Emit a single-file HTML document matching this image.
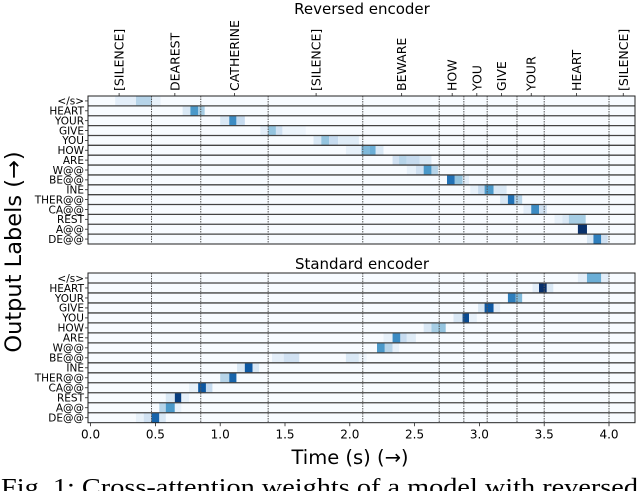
<!DOCTYPE html>
<html><head><meta charset="utf-8"><style>
html,body{margin:0;padding:0;background:#fff;overflow:hidden}
svg text{font-family:"DejaVu Sans","Liberation Sans",sans-serif}
</style></head><body>
<svg id="fig" width="640" height="491" viewBox="0 0 640 491" xmlns="http://www.w3.org/2000/svg">
<text x="362" y="14" font-size="15" text-anchor="middle">Reversed encoder</text>
<text x="362" y="269" font-size="15" text-anchor="middle">Standard encoder</text>
<text transform="translate(21,252) rotate(-90)" font-size="22.5" text-anchor="middle">Output Labels (→)</text>
<text x="350" y="464" font-size="19.5" text-anchor="middle">Time (s) (→)</text>
<text x="1" y="495" font-size="24" textLength="637" lengthAdjust="spacingAndGlyphs" style="font-family:'Liberation Serif',serif">Fig. 1: Cross-attention weights of a model with reversed</text>
<g id="plots"></g>
</svg>
<script>
const rowLabels = ["</s>","HEART","YOUR","GIVE","YOU","HOW","ARE","W@@","BE@@","INE","THER@@","CA@@","REST","A@@","DE@@"];
const xTicks = [0,0.5,1,1.5,2,2.5,3,3.5,4];
const wordBounds = [0.47,0.85,1.37,2.10,2.69,2.88,3.06,3.29,3.50,4.00];
const words = ["[SILENCE]","DEAREST","CATHERINE","[SILENCE]","BEWARE","HOW","YOU","GIVE","YOUR","HEART","[SILENCE]"];
const wordPos = [0.22,0.65,1.11,1.74,2.40,2.79,2.98,3.17,3.40,3.75,4.11];
// cells: [row, start, end, weight]
const topCells = [
[0,0.19,0.35,0.1],[0,0.35,0.475,0.3],[0,0.475,0.54,0.08],
[1,0.71,0.77,0.15],[1,0.77,0.83,0.6],[1,0.83,0.88,0.35],
[2,1.0,1.07,0.15],[2,1.07,1.125,0.65],[2,1.125,1.19,0.25],
[3,1.31,1.37,0.1],[3,1.37,1.43,0.4],[3,1.43,1.48,0.2],[3,1.48,1.66,0.05],
[4,1.72,1.78,0.15],[4,1.78,1.84,0.4],[4,1.84,1.91,0.25],[4,1.91,2.07,0.12],
[5,1.97,2.09,0.08],[5,2.09,2.15,0.45],[5,2.15,2.2,0.5],[5,2.2,2.26,0.15],
[6,2.33,2.38,0.2],[6,2.38,2.44,0.3],[6,2.44,2.54,0.25],[6,2.54,2.63,0.15],
[7,2.44,2.51,0.08],[7,2.51,2.57,0.2],[7,2.57,2.63,0.6],[7,2.63,2.68,0.3],
[8,2.75,2.81,0.75],[8,2.81,2.87,0.4],[8,2.87,2.92,0.1],
[9,2.93,2.99,0.08],[9,2.99,3.04,0.25],[9,3.04,3.11,0.6],[9,3.11,3.21,0.15],
[10,3.16,3.22,0.15],[10,3.22,3.27,0.75],[10,3.27,3.33,0.3],
[11,3.34,3.40,0.1],[11,3.40,3.46,0.65],[11,3.46,3.52,0.2],
[12,3.58,3.64,0.08],[12,3.64,3.69,0.15],[12,3.69,3.82,0.35],
[13,3.76,3.83,1.0],
[14,3.83,3.88,0.15],[14,3.88,3.94,0.7],[14,3.94,3.99,0.2]
];
const bottomCells = [
[0,3.76,3.83,0.1],[0,3.83,3.94,0.5],[0,3.94,4.0,0.1],
[1,3.41,3.46,0.1],[1,3.46,3.52,1.0],[1,3.52,3.57,0.15],
[2,3.22,3.28,0.7],[2,3.28,3.33,0.45],
[3,2.99,3.04,0.15],[3,3.04,3.11,0.85],[3,3.11,3.16,0.1],
[4,2.80,2.87,0.15],[4,2.87,2.92,0.9],[4,2.92,2.98,0.08],
[5,2.57,2.63,0.15],[5,2.63,2.68,0.35],[5,2.68,2.74,0.4],
[6,2.26,2.33,0.08],[6,2.33,2.39,0.65],[6,2.39,2.44,0.25],[6,2.44,2.51,0.12],
[7,2.21,2.27,0.6],[7,2.27,2.33,0.3],[7,2.33,2.38,0.08],
[8,1.40,1.49,0.1],[8,1.49,1.61,0.2],[8,1.97,2.07,0.15],[8,2.07,2.13,0.05],
[9,1.13,1.19,0.15],[9,1.19,1.25,0.85],[9,1.25,1.30,0.15],
[10,1.0,1.07,0.3],[10,1.07,1.125,0.8],
[11,0.76,0.83,0.08],[11,0.83,0.89,0.85],[11,0.89,0.94,0.25],
[12,0.58,0.65,0.15],[12,0.65,0.70,0.95],[12,0.70,0.76,0.08],
[13,0.53,0.58,0.3],[13,0.58,0.65,0.6],[13,0.65,0.70,0.08],
[14,0.35,0.41,0.08],[14,0.41,0.47,0.2],[14,0.47,0.53,0.8],[14,0.53,0.58,0.15]
];
const NS="http://www.w3.org/2000/svg";
const X0=90.6, PX=129.6, LEFT=88, RIGHT=635;
const xs = t => X0 + t*PX;
const stops=[[247,251,255],[222,235,247],[198,219,239],[158,202,225],[107,174,214],[66,146,198],[33,113,181],[8,81,156],[8,48,107]];
function blues(v){v=Math.max(0,Math.min(1,v))*8;const i=Math.min(7,Math.floor(v)),f=v-i;const a=stops[i],b=stops[i+1];return `rgb(${a.map((c,k)=>Math.round(c+(b[k]-c)*f)).join(',')})`;}
function mk(tag,attrs,parent){const e=document.createElementNS(NS,tag);for(const k in attrs)e.setAttribute(k,attrs[k]);parent.appendChild(e);return e;}
const root=document.getElementById('plots');
function panel(name,top,bottom,cells,showWords,showX){
  const g=mk('g',{},root);
  
  
  const rh=(bottom-top)/rowLabels.length;
  const bg=mk('rect',{x:LEFT,y:top,width:RIGHT-LEFT,height:bottom-top,fill:'#f7fbff'},g);
  
  
  cells.forEach(c=>{
    const r=mk('rect',{x:xs(c[1]),y:top+c[0]*rh,width:xs(c[2])-xs(c[1]),height:rh,fill:blues(c[3])},g);
    
    
  });
  wordBounds.forEach(t=>{
    const l=mk('line',{x1:xs(t),x2:xs(t),y1:top,y2:bottom,stroke:'#555','stroke-width':1,'stroke-dasharray':'1.5,1'},g);
    
    
  });
  for(let i=1;i<rowLabels.length;i++){
    const l=mk('line',{x1:LEFT,x2:RIGHT,y1:top+i*rh,y2:top+i*rh,stroke:'#444','stroke-width':1.3},g);
    
    
  }
  const fr=mk('rect',{x:LEFT,y:top,width:RIGHT-LEFT,height:bottom-top,fill:'none',stroke:'#222','stroke-width':1},g);
  
  
  rowLabels.forEach((lab,i)=>{
    const y=top+(i+0.5)*rh;
    mk('line',{x1:LEFT-3,x2:LEFT,y1:y,y2:y,stroke:'#222','stroke-width':0.8},g);
    const t=mk('text',{x:LEFT-4,y:y+3.8,'font-size':10.5,'text-anchor':'end'},g);
    t.textContent=lab;
    
    
  });
  if(showWords){
    words.forEach((w,i)=>{
      const x=xs(wordPos[i]);
      mk('line',{x1:x,x2:x,y1:top-3,y2:top,stroke:'#222','stroke-width':0.8},g);
      const t=mk('text',{transform:`translate(${x+4.5},${top-5}) rotate(-90)`,'font-size':12.5},g);
      t.textContent=w;
      
      
    });
  }
  if(showX){
    xTicks.forEach(v=>{
      const x=xs(v);
      mk('line',{x1:x,x2:x,y1:bottom,y2:bottom+3.5,stroke:'#222','stroke-width':0.8},g);
      const t=mk('text',{x:x,y:bottom+16,'font-size':12,'text-anchor':'middle'},g);
      t.textContent=v.toFixed(1);
      
      
    });
  }
}
panel('reversed-encoder-heatmap',96,244,topCells,true,false);
panel('standard-encoder-heatmap',273,422.7,bottomCells,false,true);
</script>
</body></html>
